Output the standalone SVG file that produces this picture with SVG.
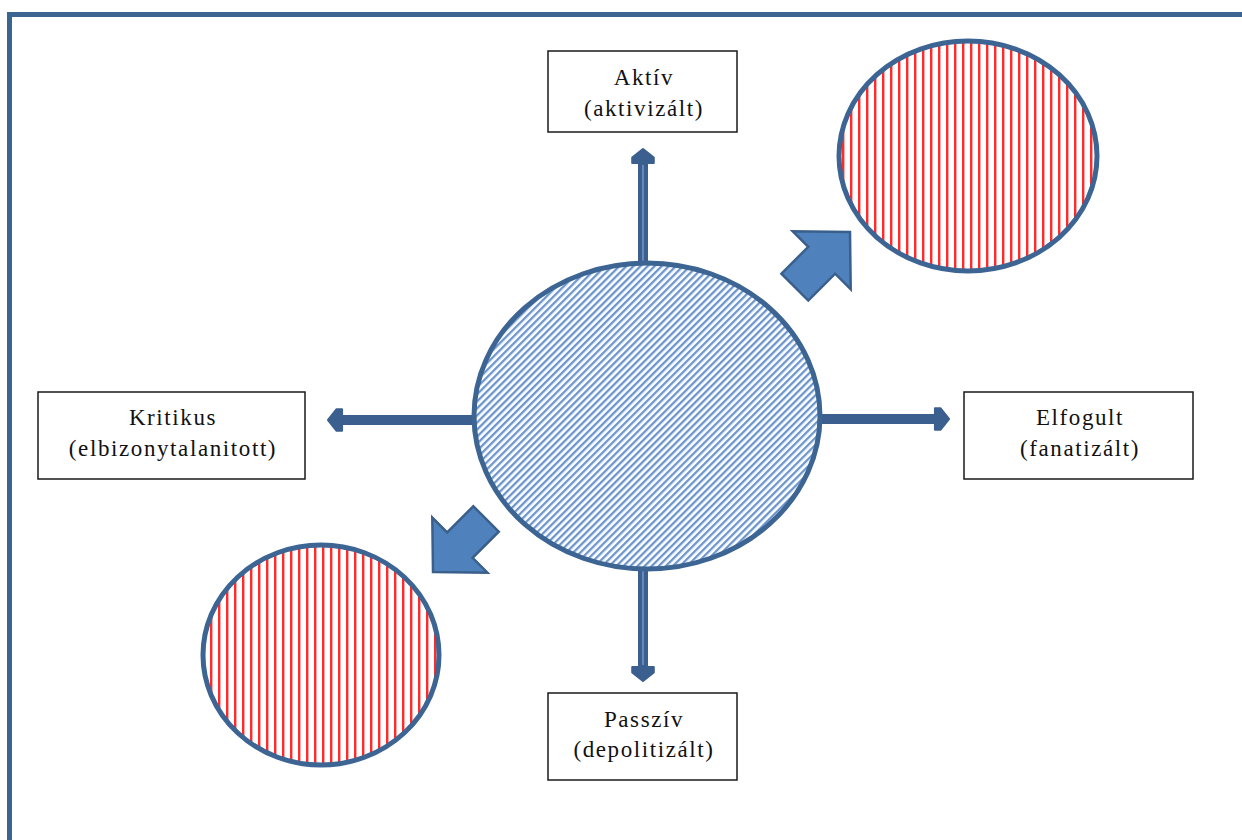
<svg xmlns="http://www.w3.org/2000/svg" width="1242" height="840" viewBox="0 0 1242 840">
<defs>
<pattern id="diag" patternUnits="userSpaceOnUse" width="5" height="5" patternTransform="rotate(45)">
<rect width="5" height="5" fill="#ffffff"/>
<rect x="0" y="0" width="2.3" height="5" fill="#6b95cc"/>
</pattern>
<pattern id="vert" patternUnits="userSpaceOnUse" width="8" height="8">
<rect width="8" height="8" fill="#ffffff"/>
<rect x="2" y="0" width="2.4" height="8" fill="#ff2a2a"/>
</pattern>
<marker id="head" markerUnits="userSpaceOnUse" markerWidth="30" markerHeight="30" viewBox="-2 -14 18 28" refX="0" refY="0" orient="auto">
<path d="M0,-10 L5,-10 L13,0 L5,10 L0,10 Z" fill="#3b5f8e" stroke="#3b5f8e" stroke-width="2" stroke-linejoin="round"/>
</marker>
</defs>
<style>
.box{fill:#ffffff;stroke:#1a1a1a;stroke-width:1.5}
.lbl{font-family:"Liberation Serif","Times New Roman",serif;font-size:23px;fill:#111111;text-anchor:middle;letter-spacing:1.6px}
.conn{stroke:#3b5f8e;stroke-width:10;fill:none;marker-end:url(#head)}
.hl{stroke:#6688bb;stroke-width:2;fill:none}
.blk{fill:#4f81bd;stroke:#3a5f8b;stroke-width:2.5;stroke-linejoin:miter}
.ring{stroke:#3d6594;stroke-width:5}
</style>
<rect width="1242" height="840" fill="#ffffff"/>
<rect id="frame" x="9.5" y="14.5" width="1250" height="850" fill="none" stroke="#3c6491" stroke-width="5"/>

<g id="connectors">
<line class="conn" x1="643" y1="264" x2="643" y2="163"/>
<line class="hl" x1="643" y1="262" x2="643" y2="165"/>
<line class="conn" x1="643" y1="568" x2="643" y2="667"/>
<line class="hl" x1="643" y1="570" x2="643" y2="665"/>
<line class="conn" x1="474" y1="420" x2="342" y2="420"/>
<line class="conn" x1="820" y1="419" x2="935" y2="419"/>
</g>

<g id="center">
<ellipse class="ring" cx="647" cy="416" rx="173" ry="153" fill="url(#diag)"/>
</g>

<g id="circle-topright">
<ellipse class="ring" cx="968" cy="156" rx="129" ry="115" fill="url(#vert)"/>
</g>

<g id="circle-bottomleft">
<ellipse class="ring" cx="321" cy="655" rx="118" ry="110" fill="url(#vert)"/>
</g>

<g id="arrow-up-right">
<polygon class="blk" transform="translate(850,232) rotate(-45)" points="0,0 -40,-41 -40,-19 -78,-19 -78,19 -40,19 -40,41"/>
</g>
<g id="arrow-down-left">
<polygon class="blk" transform="translate(433,572) rotate(135)" points="0,0 -38,-39 -38,-18 -75,-18 -75,18 -38,18 -38,39"/>
</g>

<g id="node-aktiv">
<rect class="box" x="548" y="51" width="189" height="81"/>
<text class="lbl" x="644" y="85">Aktív</text>
<text class="lbl" x="644" y="116">(aktivizált)</text>
</g>

<g id="node-kritikus">
<rect class="box" x="38" y="392" width="267" height="87"/>
<text class="lbl" x="173" y="425">Kritikus</text>
<text class="lbl" x="173" y="456">(elbizonytalanitott)</text>
</g>

<g id="node-elfogult">
<rect class="box" x="964" y="392" width="229" height="87"/>
<text class="lbl" x="1080" y="425">Elfogult</text>
<text class="lbl" x="1080" y="456">(fanatizált)</text>
</g>

<g id="node-passziv">
<rect class="box" x="548" y="693" width="189" height="87"/>
<text class="lbl" x="644" y="727">Passzív</text>
<text class="lbl" x="644" y="757">(depolitizált)</text>
</g>
</svg>
